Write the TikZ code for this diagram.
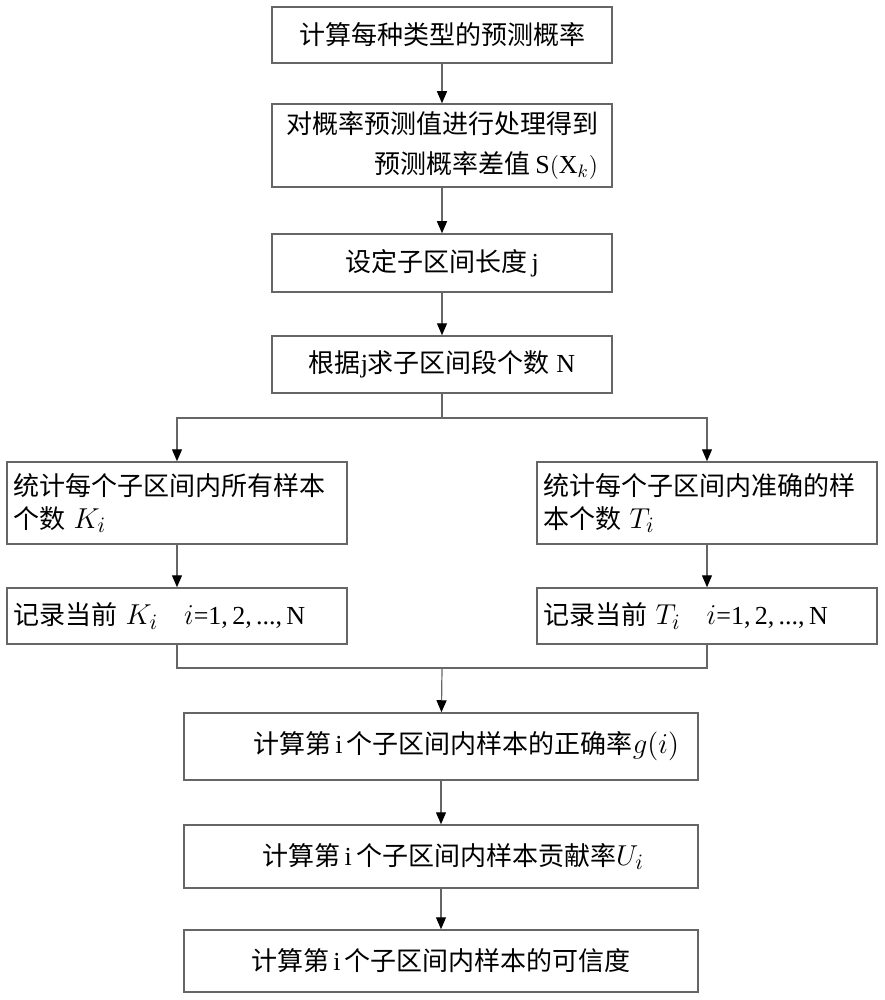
\documentclass[tikz,border=0pt]{standalone}
\usepackage{fontspec}
\setmainfont{Liberation Serif}
\newfontfamily\cjk{Noto Sans CJK SC}
\usetikzlibrary{arrows.meta}
\newcommand{\zh}[1]{{\cjk #1}}
\newcommand{\mv}[1]{{\fontsize{15}{15}\selectfont$#1$}}
\tikzset{
  stepbox/.style={draw=black!60, line width=0.75pt, fill=white, rectangle, minimum width=170pt, inner sep=0pt, font=\fontsize{13}{16.5}\selectfont},
  sidebox/.style={stepbox, text width=164pt, align=left, inner xsep=3pt},
  widebox/.style={stepbox, minimum width=257pt},
  flow/.style={draw=black!60, line width=0.6pt},
  arr/.style={flow, -{Triangle[width=5pt,length=6pt,color=black]}},
}
\begin{document}
\begin{tikzpicture}[x=0.5pt,y=-0.5pt]
    \useasboundingbox[fill=white] (0,0) rectangle (884,1000);
    \node [stepbox, minimum height=28pt] (prob) at (442,35) {\zh{计算每种类型的预测概率}};
    \node [stepbox, minimum height=41.5pt, align=right, font=\fontsize{13}{20}\selectfont] (diff) at (442,145.5) {\zh{对概率预测值进行处理得到}\\\zh{预测概率差值}\,S$\bigl(\mbox{X}_k\bigr)$};
    \node [stepbox, minimum height=29pt] (len) at (442,263) {\zh{设定子区间长度}\,j};
    \node [stepbox, minimum height=28.5pt] (num) at (442,364.5) {\zh{根据}j\zh{求子区间段个数} N};
    \node [sidebox, minimum height=41pt] (cntK) at (177,503) {\zh{统计每个子区间内所有样本}\\\zh{个数} \mv{K_i}};
    \node [sidebox, minimum height=41pt] (cntT) at (707,503) {\zh{统计每个子区间内准确的样}\\\zh{本个数} \mv{T_i}};
    \node [sidebox, minimum height=28pt] (recK) at (177,616) {\zh{记录当前} \mv{K_i}\quad \mv{i}=1,\,2,\,...,\,N};
    \node [sidebox, minimum height=28pt] (recT) at (707,616) {\zh{记录当前} \mv{T_i}\quad \mv{i}=1,\,2,\,...,\,N};
    \node [widebox, minimum height=33.5pt] (rate) at (441,746.5) {\hspace*{25pt}\zh{计算第}\,i\,\zh{个子区间内样本的正确率}\mv{g\bigl(i\bigr)}};
    \node [widebox, minimum height=31.5pt] (contrib) at (441,856.5) {\hspace*{12pt}\zh{计算第}\,i\,\zh{个子区间内样本贡献率}\mv{U_i}};
    \node [widebox, minimum height=31pt] (cred) at (441,961) {\zh{计算第}\,i\,\zh{个子区间内样本的可信度}};
    \coordinate (split) at (442,418);
    \coordinate (join) at (442,668);
    \draw [arr] (prob) -- (diff);
    \draw [arr] (diff) -- (len);
    \draw [arr] (len) -- (num);
    \draw [flow] (num) -- (split);
    \draw [arr] (split) -| (cntK);
    \draw [arr] (split) -| (cntT);
    \draw [arr] (cntK) -- (recK);
    \draw [arr] (cntT) -- (recT);
    \draw [flow] (recK) |- (join);
    \draw [flow] (recT) |- (join);
    \draw [arr] (join) -- (rate);
    \draw [arr] (rate) -- (contrib);
    \draw [arr] (contrib) -- (cred);
\end{tikzpicture}
\end{document}
